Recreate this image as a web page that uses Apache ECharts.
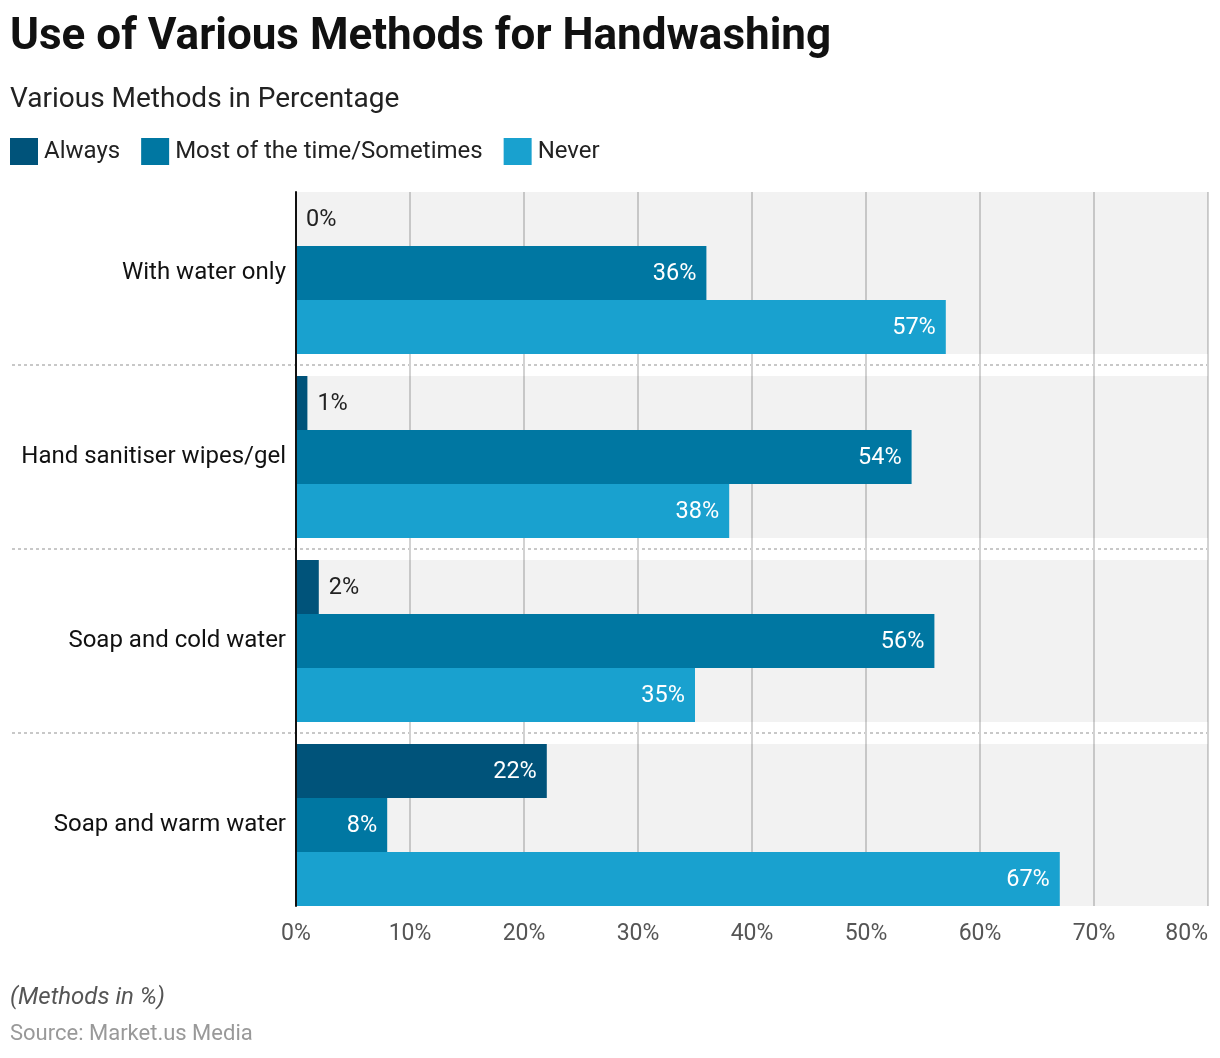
<!DOCTYPE html>
<html>
<head>
<meta charset="utf-8">
<script src="https://cdn.jsdelivr.net/npm/echarts@6/dist/echarts.min.js"></script>
<style>
html,body{margin:0;padding:0;background:#fff;}
#chart{width:1220px;height:1058px;}
</style>
</head>
<body>
<div id="chart"></div>
<script>
const categories = ["With water only", "Hand sanitiser wipes/gel", "Soap and cold water", "Soap and warm water"];
const alwaysValues = [0, 1, 2, 22];
const mostValues = [36, 54, 56, 8];
const neverValues = [57, 38, 35, 67];
const seriesNames = ["Always", "Most of the time/Sometimes", "Never"];
const seriesColors = ["#00537a", "#0077a2", "#19a1cf"];
const xTicks = [0, 10, 20, 30, 40, 50, 60, 70, 80];

const FONT = "Roboto";

function labelled(values) {
  return values.map(v => ({
    value: v,
    label: v < 5
      ? { position: 'right', color: '#222', distance: 10 }
      : { position: 'insideRight', color: '#fff', distance: 10 }
  }));
}

function barSeries(name, values, color) {
  return {
    name: name,
    type: 'bar',
    xAxisIndex: 0,
    yAxisIndex: 0,
    barWidth: 54,
    barGap: '0%',
    itemStyle: { color: color },
    showBackground: true,
    backgroundStyle: { color: 'rgba(0,0,0,0.05)' },
    label: {
      show: true,
      formatter: '{c}%',
      fontSize: 23.5,
      fontFamily: FONT,
      offset: [0, 1.5]
    },
    data: labelled(values)
  };
}

const chart = echarts.init(document.getElementById('chart'));
chart.setOption({
  backgroundColor: '#fff',
  animation: false,
  title: [
    { text: 'Use of Various Methods for Handwashing', left: 10, top: 16, padding: 0,
      textStyle: { fontSize: 44, fontWeight: 'bold', color: '#111', fontFamily: FONT } },
    { text: 'Various Methods in Percentage', left: 10, top: 86, padding: 0,
      textStyle: { fontSize: 28, fontWeight: 'normal', color: '#222', fontFamily: FONT } },
    { text: '(Methods in %)', left: 10, top: 986, padding: 0,
      textStyle: { fontSize: 24, fontStyle: 'italic', fontWeight: 'normal', color: '#555', fontFamily: FONT } },
    { text: 'Source: Market.us Media', left: 10, top: 1023, padding: 0,
      textStyle: { fontSize: 22, fontWeight: 'normal', color: '#999', fontFamily: FONT } }
  ],
  legend: {
    left: 10, top: 138, padding: 0,
    icon: 'rect',
    itemWidth: 28, itemHeight: 27, itemGap: 21,
    textStyle: { fontSize: 24, color: '#222', fontFamily: FONT, padding: [0, 0, 0, 1] },
    data: seriesNames
  },
  grid: [
    { left: 296, right: 12, top: 181, height: 736 },
    { left: 296, right: 12, top: 192, bottom: 152 },
    { left: 12, right: 12, top: 181, height: 736 }
  ],
  xAxis: [
    { gridIndex: 0, type: 'value', min: 0, max: 80, interval: 10, show: false },
    { gridIndex: 1, type: 'value', min: xTicks[0], max: xTicks[xTicks.length - 1], interval: 10,
      axisLine: { show: false }, axisTick: { show: false },
      axisLabel: { formatter: '{value}%', fontSize: 23, color: '#555', fontFamily: FONT, margin: 17, alignMaxLabel: 'right' },
      splitLine: { show: true, lineStyle: { color: '#d2d2d2', width: 2 } } },
    { gridIndex: 2, type: 'value', min: 0, max: 1, show: false }
  ],
  yAxis: [
    { gridIndex: 0, type: 'category', data: categories, inverse: true,
      axisLine: { show: false }, axisTick: { show: false },
      axisLabel: { fontSize: 24, color: '#111', fontFamily: FONT, margin: 10, padding: [4, 0, 0, 0] },
      splitLine: { show: false } },
    { gridIndex: 1, type: 'category', data: categories, inverse: true, z: 10,
      axisLine: { show: true, lineStyle: { color: '#111', width: 2 } },
      axisTick: { show: false }, axisLabel: { show: false }, splitLine: { show: false } },
    { gridIndex: 2, type: 'value', min: 0, max: categories.length, interval: 1, inverse: true,
      axisLine: { show: false }, axisTick: { show: false }, axisLabel: { show: false },
      splitLine: { show: true, showMinLine: false, showMaxLine: false,
        lineStyle: { type: [3, 3], color: '#c8c8c8', width: 2 } } }
  ],
  series: [
    barSeries(seriesNames[0], alwaysValues, seriesColors[0]),
    barSeries(seriesNames[1], mostValues, seriesColors[1]),
    barSeries(seriesNames[2], neverValues, seriesColors[2])
  ]
});
</script>
</body>
</html>
